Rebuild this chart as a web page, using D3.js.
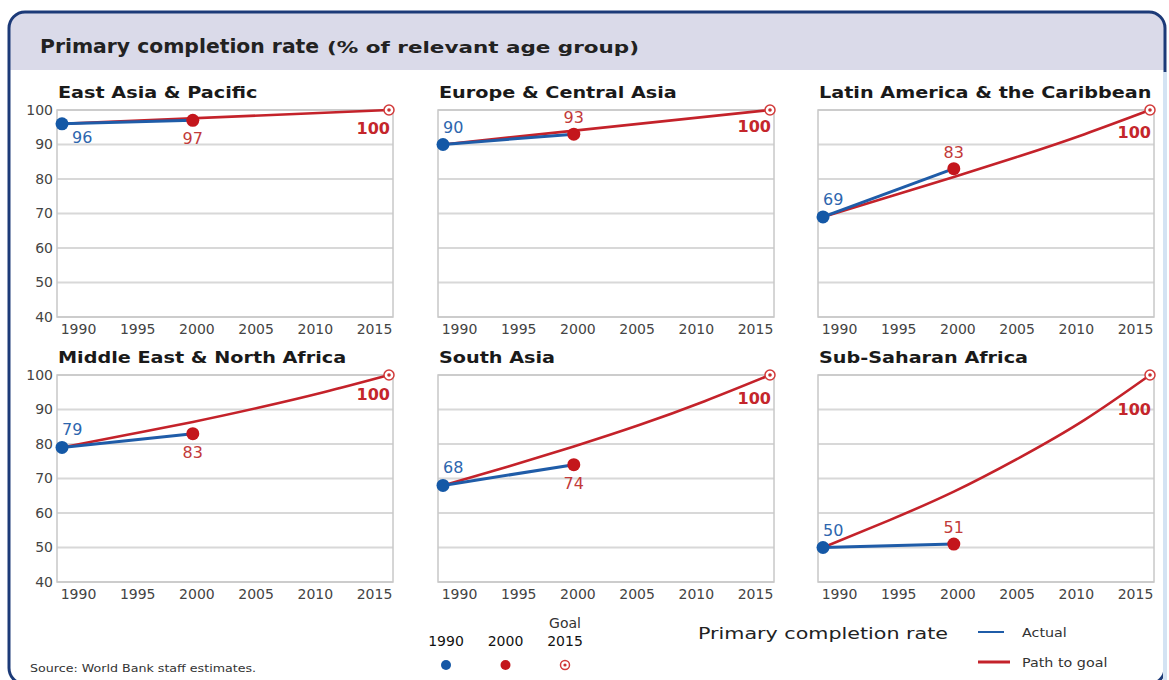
<!DOCTYPE html>
<html>
<head>
<meta charset="utf-8">
<script src="https://cdn.jsdelivr.net/npm/d3@7"></script>
<style>
  body { margin: 0; background: #fff; }
  text { font-family: "DejaVu Sans", Verdana, sans-serif; }
</style>
</head>
<body>
<div class="chart"></div>
<script>
// data
const regions = ["East Asia & Pacific", "Europe & Central Asia", "Latin America & the Caribbean",
  "Middle East & North Africa", "South Asia", "Sub-Saharan Africa"];
const actual1990 = [96, 90, 69, 79, 68, 50];
const actual2000 = [97, 93, 83, 83, 74, 51];
const goal2015 = [100, 100, 100, 100, 100, 100];
const pathYears = [1990, 1995, 2000, 2005, 2010, 2015];
// path to goal, read at the years above (null = not read, straight segment)
const pathToGoal = [
  [96, null, null, null, null, 100],
  [90, null, null, null, null, 100],
  [69, 74.8, 80.6, 86.6, 93, 100],
  [79, 82.7, 86.4, 90.5, 95, 100],
  [68, 73.5, 79.3, 85.5, 92.4, 100],
  [50, 57.8, 66.2, 76, 87, 100]
];
const xTicks = [1990, 1995, 2000, 2005, 2010, 2015];
const yTicks = [40, 50, 60, 70, 80, 90, 100];

// label placement per panel
const label1990Pos = ["below", "above", "above", "above", "above", "above"];
const label2000Pos = ["below", "above", "above", "below", "below", "above"];
const goalLabelDy = [24, 22, 28, 25, 29, 40];

const W = 1169, H = 680;
const blue = "#1458a6", red = "#c4161c";
const colLeft = [57, 438, 818], rowTop = [110, 375];
const plotW = 336, plotH = 207;

const svg = d3.select(".chart").append("svg")
  .attr("width", W).attr("height", H);

// stretch text horizontally (the source picture is a bit wide)
function stretch(sel, k) {
  sel.each(function () {
    const w = this.getComputedTextLength();
    d3.select(this).attr("textLength", w * k).attr("lengthAdjust", "spacingAndGlyphs");
  });
}

// outer frame + title band
svg.append("clipPath").attr("id", "frameClip")
  .append("rect").attr("x", 9).attr("y", 12).attr("width", 1156).attr("height", 672).attr("rx", 16);
svg.append("rect").attr("x", 9).attr("y", 12).attr("width", 1156).attr("height", 58)
  .attr("clip-path", "url(#frameClip)").attr("fill", "#dadae9");
svg.append("rect").attr("x", 9).attr("y", 12).attr("width", 1156).attr("height", 672).attr("rx", 16)
  .attr("fill", "none").attr("stroke", "#1c3a78").attr("stroke-width", 3);
svg.append("line").attr("x1", 1165).attr("x2", 1165).attr("y1", 72).attr("y2", 680)
  .attr("stroke", "#d4e3f3").attr("stroke-width", 4);

svg.append("text").attr("x", 40).attr("y", 53)
  .attr("font-size", 19).attr("font-weight", "bold").attr("fill", "#222")
  .text("Primary completion rate").call(stretch, 1.07);
svg.append("text").attr("x", 327).attr("y", 53)
  .attr("font-size", 15).attr("font-weight", "bold").attr("fill", "#222")
  .text("(% of relevant age group)").attr("textLength", 312).attr("lengthAdjust", "spacingAndGlyphs");

regions.forEach((name, i) => {
  const left = colLeft[i % 3], top = rowTop[Math.floor(i / 3)];
  const x = d3.scaleLinear().domain([1990, 2015]).range([left + 5, left + plotW - 4]);
  const y = d3.scaleLinear().domain([40, 100]).range([top + plotH, top]);
  const xl = d3.scaleLinear().domain([1990, 2015]).range([left + 21, left + 317]);
  const g = svg.append("g");

  // panel title
  g.append("text").attr("x", left + 1).attr("y", top - 12)
    .attr("font-size", 16).attr("font-weight", "bold").attr("fill", "#1a1a1a")
    .text(name).call(stretch, 1.2);

  // grid
  g.selectAll(".grid").data(yTicks).join("line")
    .attr("x1", left).attr("x2", left + plotW)
    .attr("y1", d => y(d)).attr("y2", d => y(d))
    .attr("stroke", "#d8d8d8").attr("stroke-width", 2);
  g.append("rect").attr("x", left).attr("y", top).attr("width", plotW).attr("height", plotH)
    .attr("fill", "none").attr("stroke", "#c8c8c8").attr("stroke-width", 1.5);

  // axes
  const xa = g.append("g").attr("transform", `translate(0,${top + plotH})`)
    .call(d3.axisBottom(xl).tickValues(xTicks).tickFormat(d3.format("d")).tickSize(0).tickPadding(7));
  xa.select(".domain").remove();
  xa.selectAll("text").attr("font-size", 14).attr("fill", "#444")
    .style("font-family", "'DejaVu Sans', sans-serif");

  if (i % 3 === 0) {
    const ya = g.append("g").attr("transform", `translate(${left},0)`)
      .call(d3.axisLeft(y).tickValues(yTicks).tickSize(0).tickPadding(4));
    ya.select(".domain").remove();
    ya.selectAll("text").attr("font-size", 14).attr("fill", "#444")
      .style("font-family", "'DejaVu Sans', sans-serif");
  }

  // path to goal
  const pts = pathYears.map((yr, k) => ({ yr, v: pathToGoal[i][k] })).filter(d => d.v !== null);
  g.append("path").datum(pts)
    .attr("fill", "none").attr("stroke", "#c4222a").attr("stroke-width", 2.6)
    .attr("d", d3.line().x(d => x(d.yr)).y(d => y(d.v)).curve(d3.curveNatural));

  // actual
  g.append("path").datum([{ yr: 1990, v: actual1990[i] }, { yr: 2000, v: actual2000[i] }])
    .attr("fill", "none").attr("stroke", "#1f5ca8").attr("stroke-width", 3)
    .attr("d", d3.line().x(d => x(d.yr)).y(d => y(d.v)));

  // markers
  g.append("circle").attr("cx", x(2000)).attr("cy", y(actual2000[i])).attr("r", 6.5).attr("fill", red);
  g.append("circle").attr("cx", x(1990)).attr("cy", y(actual1990[i])).attr("r", 6.5).attr("fill", blue);
  g.append("circle").attr("cx", x(2015)).attr("cy", y(goal2015[i])).attr("r", 5)
    .attr("fill", "#fff").attr("stroke", "#d23a3a").attr("stroke-width", 1.5);
  g.append("circle").attr("cx", x(2015)).attr("cy", y(goal2015[i])).attr("r", 1.8).attr("fill", "#c83030");

  // value labels
  const b1990 = label1990Pos[i] === "above";
  g.append("text")
    .attr("x", x(1990) + (b1990 ? 0 : 10))
    .attr("y", y(actual1990[i]) + (b1990 ? -12 : 19))
    .attr("font-size", 16).attr("fill", "#2d66ae")
    .text(actual1990[i]);
  const b2000 = label2000Pos[i] === "above";
  g.append("text")
    .attr("x", x(2000)).attr("text-anchor", "middle")
    .attr("y", y(actual2000[i]) + (b2000 ? -11 : 24))
    .attr("font-size", 16).attr("fill", "#c23a3a")
    .text(actual2000[i]);
  g.append("text")
    .attr("x", x(2015) + 1).attr("text-anchor", "end")
    .attr("y", y(goal2015[i]) + goalLabelDy[i])
    .attr("font-size", 16).attr("font-weight", "bold").attr("fill", "#c4262b")
    .text(goal2015[i]);
});

// legend: markers
const legYears = ["1990", "2000", "2015"];
const legX = d3.scalePoint().domain(legYears).range([446, 565]);
const leg = svg.append("g");
leg.selectAll(".ly").data(legYears).join("text")
  .attr("x", d => legX(d)).attr("y", 646).attr("text-anchor", "middle")
  .attr("font-size", 14).attr("fill", "#111").text(d => d);
leg.append("text").attr("x", legX("2015")).attr("y", 628).attr("text-anchor", "middle")
  .attr("font-size", 14).attr("fill", "#333").text("Goal");
leg.append("circle").attr("cx", legX("1990")).attr("cy", 665).attr("r", 5).attr("fill", blue);
leg.append("circle").attr("cx", legX("2000")).attr("cy", 665).attr("r", 5).attr("fill", red);
leg.append("circle").attr("cx", legX("2015")).attr("cy", 665).attr("r", 4.5)
  .attr("fill", "#fff").attr("stroke", "#d23a3a").attr("stroke-width", 1.5);
leg.append("circle").attr("cx", legX("2015")).attr("cy", 665).attr("r", 1.6).attr("fill", "#c83030");

// legend: lines
leg.append("text").attr("x", 698).attr("y", 639).attr("font-size", 15).attr("fill", "#222")
  .text("Primary completion rate").attr("textLength", 250).attr("lengthAdjust", "spacingAndGlyphs");
leg.append("line").attr("x1", 978).attr("x2", 1004).attr("y1", 632).attr("y2", 632)
  .attr("stroke", "#1f5ca8").attr("stroke-width", 2);
leg.append("text").attr("x", 1022).attr("y", 637).attr("font-size", 13).attr("fill", "#333")
  .text("Actual").call(stretch, 1.1);
leg.append("line").attr("x1", 978).attr("x2", 1010).attr("y1", 662).attr("y2", 662)
  .attr("stroke", "#c4222a").attr("stroke-width", 3);
leg.append("text").attr("x", 1022).attr("y", 667).attr("font-size", 13).attr("fill", "#333")
  .text("Path to goal").call(stretch, 1.1);

svg.append("text").attr("x", 30).attr("y", 672).attr("font-size", 11).attr("fill", "#333")
  .text("Source: World Bank staff estimates.").call(stretch, 1.15);
</script>
</body>
</html>
